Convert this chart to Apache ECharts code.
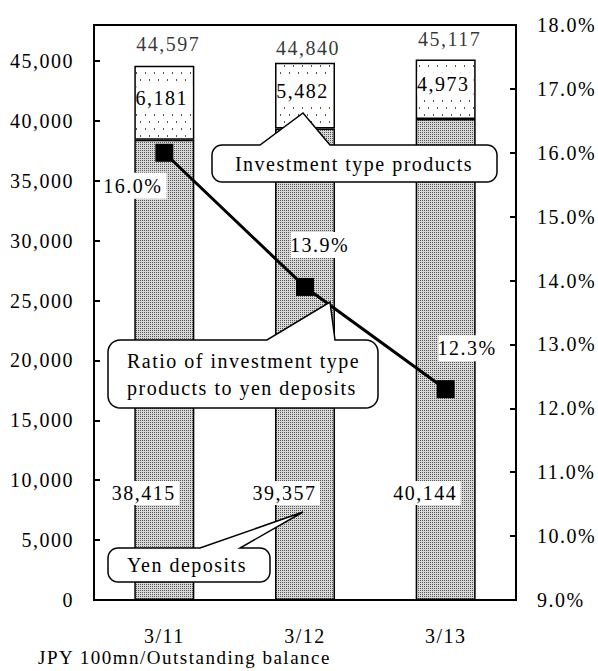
<!DOCTYPE html>
<html><head><meta charset="utf-8">
<script src="https://cdn.jsdelivr.net/npm/echarts@6/dist/echarts.min.js"></script>
<style>
html,body{margin:0;padding:0;background:#fff;}
#chart{width:598px;height:671px;}
#chart text{letter-spacing:1.5px;font-family:'Liberation Serif','Times New Roman',serif !important;}
</style></head><body><div id="chart"></div>
<script>
// ---- data ----
const categories = ['3/11', '3/12', '3/13'];
const yenDeposits = [38415, 39357, 40144];
const investmentProducts = [6181, 5482, 4973];
const totals = [44597, 44840, 45117];
const ratioPct = [16.0, 13.9, 12.3];
const leftAxisRange = { min: 0, max: 48000, interval: 5000 };
const rightAxisRange = { min: 9, max: 18, interval: 1 };
const unitLabel = 'JPY 100mn/Outstanding balance';

// ---- styles ----
const FONT = 'Liberation Serif';
const FS = 20;
const pctLabelOffsets = [[-29, 33], [17, -42], [24, -41]];
const totalLabelOffsets = [[4, -22], [3, -15], [4, -21]];

function makePattern(w, h, bg, dots, dotColor) {
  const c = document.createElement('canvas');
  c.width = w; c.height = h;
  const ctx = c.getContext('2d');
  ctx.fillStyle = bg; ctx.fillRect(0, 0, w, h);
  ctx.fillStyle = dotColor;
  dots.forEach(d => ctx.fillRect(d[0], d[1], d[2], d[3]));
  return { image: c, repeat: 'repeat' };
}
const densePattern = makePattern(4, 4, '#d8d8d8', [[0, 0, 1, 1], [2, 2, 1, 1], [2, 0, 1, 1], [0, 2, 1, 1]], '#555555');
const sparsePattern = makePattern(9, 14, '#ffffff', [[1, 2, 1, 2], [5, 9, 1, 2]], '#555555');

function callout(x0, y0, x1, y1, r, bx1, bx2, tx, ty) {
  const pts = [[x0 + r, y0], [bx1, y0], [tx, ty], [bx2, y0], [x1 - r, y0]];
  function arc(cx, cy, a0, a1) {
    for (let i = 1; i <= 8; i++) {
      const a = (a0 + (a1 - a0) * i / 8) * Math.PI / 180;
      pts.push([cx + r * Math.cos(a), cy + r * Math.sin(a)]);
    }
  }
  arc(x1 - r, y0 + r, -90, 0);
  pts.push([x1, y1 - r]);
  arc(x1 - r, y1 - r, 0, 90);
  pts.push([x0 + r, y1]);
  arc(x0 + r, y1 - r, 90, 180);
  pts.push([x0, y0 + r]);
  arc(x0 + r, y0 + r, 180, 270);
  return {
    type: 'polygon', z: 100,
    shape: { points: pts },
    style: { fill: '#fff', stroke: '#000', lineWidth: 1.5 }
  };
}
function ctext(x, y, text, align, lh) {
  return {
    type: 'text', z: 101, x: x, y: y,
    style: { text: text, fontFamily: FONT, fontSize: FS, fill: '#000',
      align: align || 'center', verticalAlign: 'middle', lineHeight: lh || FS }
  };
}

const chart = echarts.init(document.getElementById('chart'), null, { renderer: 'svg' });
const labelBase = { fontFamily: FONT, fontSize: FS, color: '#000' };

chart.setOption({
  animation: false,
  backgroundColor: '#fff',
  textStyle: { fontFamily: FONT },
  grid: { left: 94, right: 82, top: 25, bottom: 71, show: true, borderColor: '#000', borderWidth: 2, backgroundColor: 'transparent' },
  xAxis: {
    type: 'category', data: categories,
    axisLine: { lineStyle: { color: '#000', width: 2 } },
    axisTick: { inside: true, length: 6, lineStyle: { color: '#000', width: 2 } },
    axisLabel: Object.assign({ margin: 26 }, labelBase)
  },
  yAxis: [{
    type: 'value', min: leftAxisRange.min, max: leftAxisRange.max, interval: leftAxisRange.interval,
    splitLine: { show: false },
    axisLine: { show: true, lineStyle: { color: '#000', width: 2 } },
    axisTick: { show: true, inside: true, length: 6, lineStyle: { color: '#000', width: 2 } },
    axisLabel: Object.assign({ margin: 20, showMaxLabel: false,
      formatter: v => (v % leftAxisRange.interval === 0 ? v.toLocaleString('en-US') : '') }, labelBase)
  }, {
    type: 'value', min: rightAxisRange.min, max: rightAxisRange.max, interval: rightAxisRange.interval,
    position: 'right',
    splitLine: { show: false },
    axisLine: { show: true, lineStyle: { color: '#000', width: 2 } },
    axisTick: { show: true, inside: true, length: 6, lineStyle: { color: '#000', width: 2 } },
    axisLabel: Object.assign({ margin: 21, formatter: v => v.toFixed(1) + '%' }, labelBase)
  }],
  series: [{
    name: 'Yen deposits', type: 'bar', stack: 'bal', barWidth: 60,
    data: yenDeposits,
    itemStyle: { color: densePattern, borderColor: '#000', borderWidth: 1.5 },
    label: Object.assign({ show: true, position: 'insideBottom', distance: 95, offset: [-18, 0],
      backgroundColor: '#fff', padding: [2, 8, 2, 3],
      formatter: p => p.value.toLocaleString('en-US') }, labelBase),
    z: 2
  }, {
    name: 'Investment type products', type: 'bar', stack: 'bal', barWidth: 60,
    data: investmentProducts,
    itemStyle: { color: sparsePattern, borderColor: '#000', borderWidth: 1.5 },
    label: Object.assign({ show: true, position: 'inside', offset: [0, -5],
      backgroundColor: '#fff', padding: [2, 8, 2, 3],
      formatter: p => p.value.toLocaleString('en-US') }, labelBase),
    z: 2
  }, {
    name: 'Total', type: 'scatter', symbolSize: 0,
    itemStyle: { color: 'transparent' },
    data: totals.map((v, i) => ({ value: v, label: { offset: totalLabelOffsets[i] } })),
    label: Object.assign({ show: true, position: 'inside',
      formatter: p => p.value.toLocaleString('en-US') }, labelBase),
    z: 3
  }, {
    name: 'Ratio', type: 'line', yAxisIndex: 1,
    data: ratioPct.map((v, i) => ({ value: v, label: { offset: pctLabelOffsets[i] } })),
    symbol: 'rect', symbolSize: 18,
    lineStyle: { color: '#000', width: 3 },
    itemStyle: { color: '#000' },
    label: Object.assign({ show: true, position: 'inside', backgroundColor: '#fff', padding: [3, 8, 3, 3],
      formatter: p => p.value.toFixed(1) + '%' }, labelBase),
    z: 5
  }],
  graphic: [
    callout(212, 145, 497, 182, 10, 260, 330, 303, 113),
    ctext(354, 164, 'Investment type products'),
    callout(108, 340, 378, 408, 12, 267, 335, 330, 302),
    ctext(127, 374, 'Ratio of investment type\nproducts to yen deposits', 'left', 27),
    callout(108, 548, 270, 582, 10, 200, 240, 303, 512),
    ctext(187, 565, 'Yen deposits'),
    { type: 'text', z: 101, x: 38, y: 657,
      style: { text: unitLabel, fontFamily: FONT, fontSize: 19, fill: '#000', align: 'left', verticalAlign: 'middle' } }
  ]
});
</script></body></html>
